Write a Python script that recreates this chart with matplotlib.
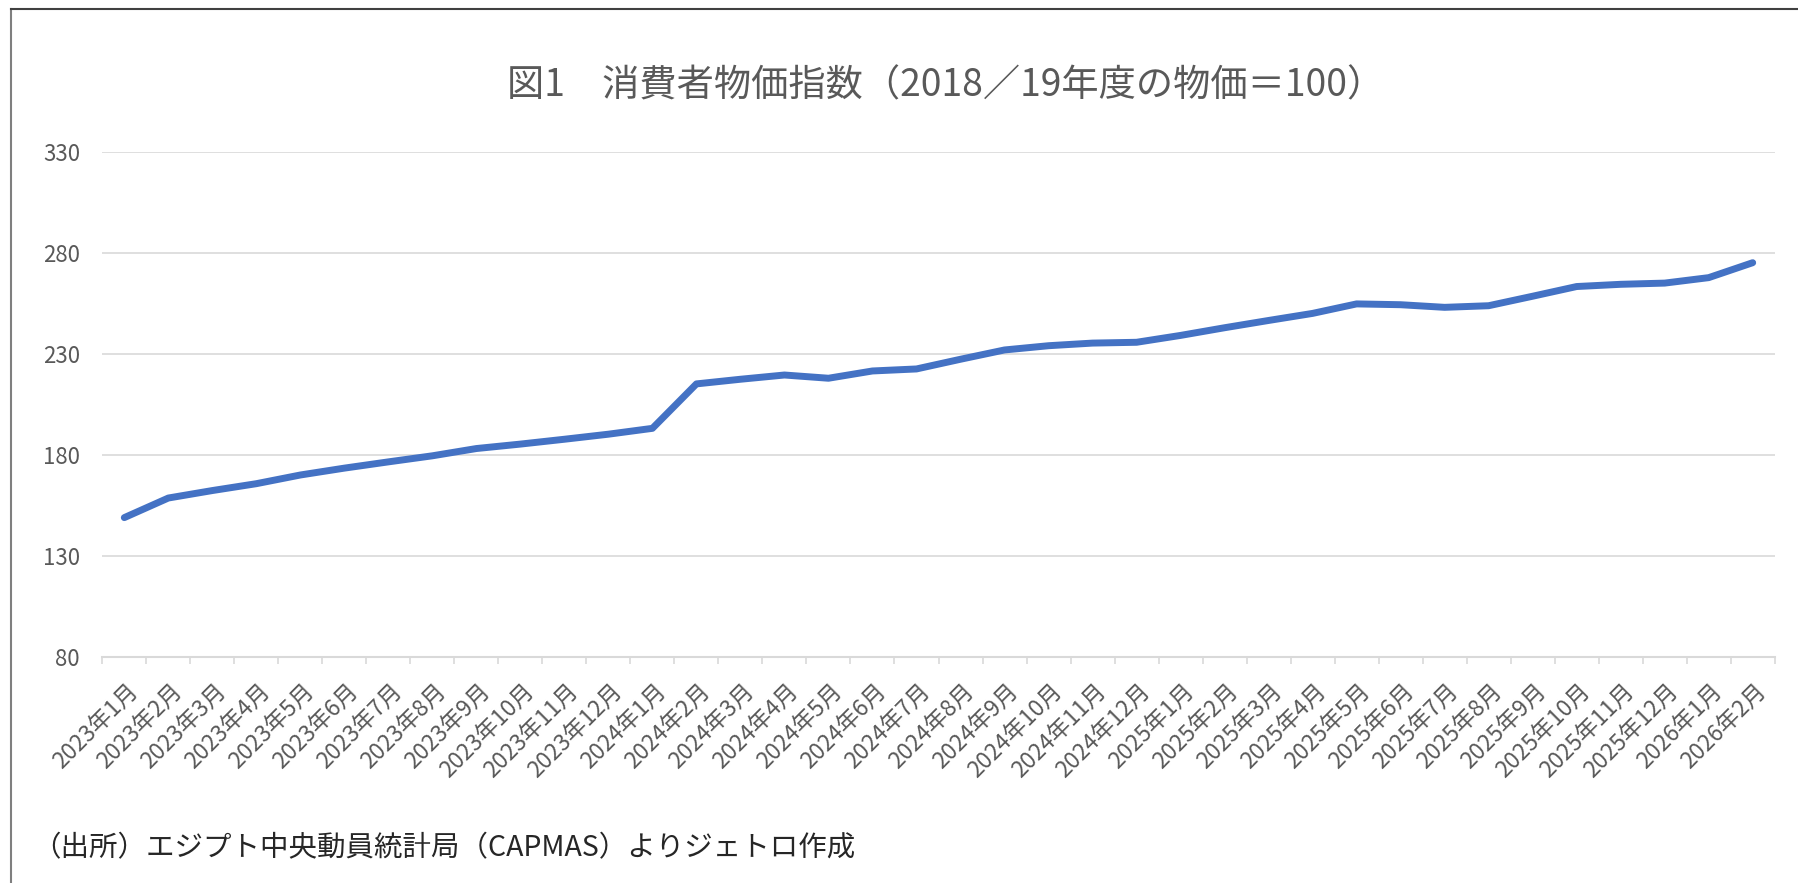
import matplotlib
matplotlib.use('Agg')
import matplotlib.pyplot as plt
import matplotlib.transforms as mtransforms
from matplotlib.lines import Line2D
import numpy as np

plt.rcParams['font.family'] = ['Noto Sans CJK JP', 'DejaVu Sans']

# data
months = ['2023年1月', '2023年2月', '2023年3月', '2023年4月', '2023年5月', '2023年6月',
          '2023年7月', '2023年8月', '2023年9月', '2023年10月', '2023年11月', '2023年12月',
          '2024年1月', '2024年2月', '2024年3月', '2024年4月', '2024年5月', '2024年6月',
          '2024年7月', '2024年8月', '2024年9月', '2024年10月', '2024年11月', '2024年12月',
          '2025年1月', '2025年2月', '2025年3月', '2025年4月', '2025年5月', '2025年6月',
          '2025年7月', '2025年8月', '2025年9月', '2025年10月', '2025年11月', '2025年12月',
          '2026年1月', '2026年2月']
cpi = [149.0, 158.7, 162.4, 165.8, 170.1, 173.5, 176.6, 179.6, 183.2, 185.4, 187.8, 190.3,
       193.2, 215.2, 217.5, 219.6, 218.0, 221.6, 222.6, 227.4, 232.0, 234.1, 235.4, 235.8,
       239.2, 243.0, 246.6, 250.1, 254.8, 254.4, 253.1, 253.9, 258.6, 263.4, 264.5, 265.1,
       267.8, 275.2]
yticks = [80, 130, 180, 230, 280, 330]

title = '図1　消費者物価指数（2018／19年度の物価＝100）'
source = '（出所）エジプト中央動員統計局（CAPMAS）よりジェトロ作成'

W, H = 1798, 883
fig = plt.figure(figsize=(W / 100, H / 100), dpi=100)
ax = fig.add_axes([102.3 / W, 1 - 657 / H, (1774.7 - 102.3) / W, (657 - 152) / H])

x = np.arange(len(months))
ax.plot(x, cpi, color='#4472C4', linewidth=5, solid_capstyle='round', solid_joinstyle='round', zorder=3)

ax.set_xlim(-0.5, len(months) - 0.5)
ax.set_ylim(yticks[0], yticks[-1])

# y axis
ax.set_yticks(yticks)
ax.set_yticklabels([str(v) for v in yticks])
ax.tick_params(axis='y', length=0, pad=16, labelsize=16, labelcolor='#595959')
ax.grid(axis='y', color='#D9D9D9', linewidth=1.2)
ax.set_axisbelow(True)

# x axis: tick marks between categories, labels at centres
ax.set_xticks(np.arange(-0.5, len(months)), minor=False)
ax.set_xticklabels([''] * (len(months) + 1))
ax.set_xticks(x, minor=True)
ax.set_xticklabels(months, minor=True, rotation=45, ha='right', va='center', rotation_mode='anchor')
ax.tick_params(axis='x', which='major', length=5, width=1.2, color='#D9D9D9', direction='out')
ax.tick_params(axis='x', which='minor', length=0, pad=22, labelsize=16.5, labelcolor='#595959')
shift = mtransforms.ScaledTranslation(0.10, 0, fig.dpi_scale_trans)
for lab in ax.get_xticklabels(minor=True):
    lab.set_transform(lab.get_transform() + shift)

for s in ['top', 'right', 'left']:
    ax.spines[s].set_visible(False)
ax.spines['bottom'].set_color('#D9D9D9')
ax.spines['bottom'].set_linewidth(1.5)

fig.text(946 / W, 1 - 86 / H, title, ha='center', va='center', fontsize=26.8, color='#595959')
fig.text(32 / W, 1 - 848 / H, source, ha='left', va='center', fontsize=20.5, color='#262626')

# chart border (left and top edges visible in the reference)
fig.add_artist(Line2D([11 / W, 11 / W], [0, 1 - 9 / H], transform=fig.transFigure, color='#7F7F7F', linewidth=1.5))
fig.add_artist(Line2D([11 / W, 1], [1 - 9 / H, 1 - 9 / H], transform=fig.transFigure, color='#404040', linewidth=1.5))

fig.savefig('out.png', dpi=100)
